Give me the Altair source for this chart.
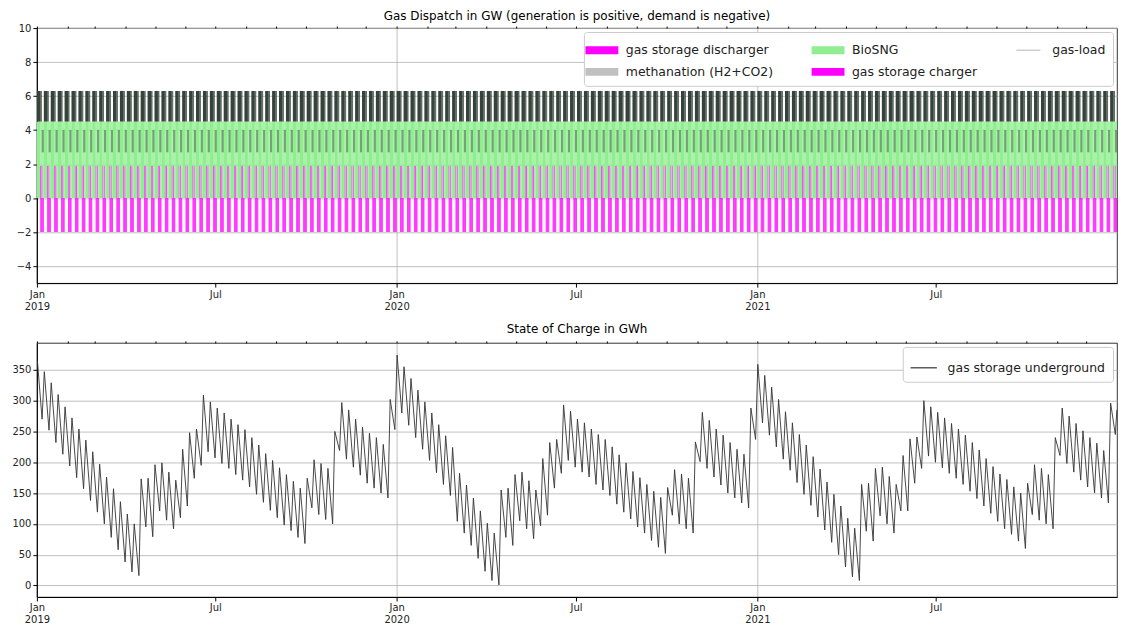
import altair as alt
import pandas as pd

# ---------------- data ----------------
years = [2019, 2020, 2021]
cycles_per_year = 52

# state of charge (GWh): weekly peak and following trough, per year
soc_peak = {
    2019: [365, 347, 329, 310, 290, 272, 254, 236, 217, 197, 176, 157, 136, 116, 100, 173, 174, 196, 199, 184,
           171, 221, 248, 254, 309, 298, 288, 280, 270, 261, 253, 240, 228, 214, 203, 191, 180, 169, 158, 174,
           204, 198, 190, 250, 297, 285, 270, 257, 247, 240, 229, 302],
    2020: [374, 355, 336, 317, 298, 280, 261, 243, 224, 182, 163, 142, 121, 101, 85, 155, 158, 180, 184, 170,
           155, 206, 232, 237, 293, 283, 270, 264, 254, 245, 237, 225, 212, 199, 185, 175, 164, 153, 143, 159,
           188, 181, 174, 233, 281, 268, 254, 244, 232, 221, 213, 288],
    2021: [359, 341, 322, 302, 282, 264, 245, 228, 209, 189, 168, 148, 129, 109, 93, 164, 166, 190, 192, 177,
           164, 211, 238, 241, 300, 290, 281, 272, 263, 254, 244, 232, 220, 206, 193, 181, 172, 160, 150, 166,
           196, 190, 180, 240, 288, 275, 263, 251, 240, 231, 219, 296],
}
soc_trough = {
    2019: [270, 252, 232, 213, 194, 175, 157, 138, 119, 100, 78, 58, 38, 22, 16, 95, 79, 121, 106, 92,
           110, 129, 174, 195, 217, 207, 198, 190, 180, 171, 160, 148, 135, 122, 110, 98, 89, 78, 68, 126,
           115, 107, 100, 219, 205, 192, 179, 166, 158, 150, 142, 253],
    2020: [280, 260, 240, 221, 203, 183, 164, 146, 104, 85, 65, 44, 23, 8, 1, 78, 65, 105, 92, 76,
           97, 114, 158, 182, 203, 192, 184, 176, 164, 155, 146, 132, 119, 108, 95, 85, 73, 62, 52, 114,
           100, 92, 85, 201, 190, 176, 163, 150, 142, 134, 126, 237],
    2021: [264, 244, 225, 205, 187, 167, 148, 130, 111, 90, 70, 50, 30, 14, 8, 88, 72, 113, 100, 85,
           121, 121, 166, 190, 210, 200, 191, 182, 174, 164, 153, 141, 129, 117, 104, 92, 83, 72, 60, 115,
           106, 100, 92, 211, 198, 184, 171, 160, 150, 142, 134, 245],
}
soc_end = 285
soc_peak_phase = 0.07     # position of the peak inside a weekly cycle
soc_trough_phase = 0.75   # position of the trough inside a weekly cycle

# gas dispatch (GW): one weekly cycle split in phases (fractions of the cycle)
phase_start = [0.00, 0.50, 0.60, 0.70, 0.80, 0.90]
phase_end = [0.50, 0.60, 0.70, 0.80, 0.90, 1.00]
discharger = [0.0, 1.9, 0.0, 1.9, 0.0, 0.0]
methanation = [0.0, 0.0, 1.9, 0.0, 1.8, 0.0]
supply_top = [4.5, 4.5, 4.5, 4.5, 4.5, 4.5]       # top of the BioSNG band
charger = [0.0, -2.0, -2.0, -2.0, -2.0, -2.0]
load_low = [4.5, 4.5, 4.5, 2.7, 2.7, 2.7]
load_high = [6.3, 6.3, 6.3, 4.0, 4.0, 4.0]

# legend order (filled column by column, as in the reference)
top_order = ["gas storage discharger", "methanation (H2+CO2)", "BioSNG",
             "gas storage charger", "gas-load"]
top_colors = ["#ff00ff", "#c0c0c0", "#90ee90", "#ff00ff", "#bdbdbd"]

# ---------------- tables ----------------
def cycle_starts(year):
    ndays = (pd.Timestamp(year + 1, 1, 1) - pd.Timestamp(year, 1, 1)).days
    length = pd.Timedelta(days=ndays / cycles_per_year)
    return [(pd.Timestamp(year, 1, 1) + j * length, length) for j in range(cycles_per_year)]

fmt = "%Y-%m-%dT%H:%M:%S"
stack_rows, load_rows, soc_rows = [], [], []
for year in years:
    for j, (c0, L) in enumerate(cycle_starts(year)):
        for p in range(len(phase_start)):
            s = (c0 + phase_start[p] * L).strftime(fmt)
            e = (c0 + phase_end[p] * L).strftime(fmt)
            d, m = discharger[p], methanation[p]
            parts = [("gas storage discharger", 0.0, d),
                     ("methanation (H2+CO2)", d, d + m),
                     ("BioSNG", d + m, supply_top[p]),
                     ("gas storage charger", charger[p], 0.0)]
            for name, lo, hi in parts:
                if hi > lo:
                    stack_rows.append({"start": s, "end": e, "series": name, "lo": lo, "hi": hi})
            load_rows.append({"start": s, "end": e, "lo": load_low[p], "hi": load_high[p],
                              "op": 1.0 if load_low[p] >= 4.5 else 0.5})
        soc_rows.append({"t": (c0 + soc_peak_phase * L).strftime(fmt), "v": soc_peak[year][j],
                         "series": "gas storage underground"})
        soc_rows.append({"t": (c0 + soc_trough_phase * L).strftime(fmt), "v": soc_trough[year][j],
                         "series": "gas storage underground"})
soc_rows.append({"t": "2021-12-31T20:00:00", "v": soc_end, "series": "gas storage underground"})

stack_df = pd.DataFrame(stack_rows)
load_df = pd.DataFrame(load_rows)
soc_df = pd.DataFrame(soc_rows)

# ---------------- axes / scales ----------------
x_scale = alt.Scale(domain=[alt.DateTime(year=2019, month=1, date=1),
                            alt.DateTime(year=2021, month=12, date=31, hours=23)], nice=False)
major_vals = [alt.DateTime(year=y, month=m, date=1) for y in years for m in (1, 7)]
minor_vals = [alt.DateTime(year=y, month=m, date=1) for y in years for m in range(1, 13)]

major_axis = alt.Axis(
    values=major_vals, title=None, tickSize=4, labelPadding=2, labelFontSize=10,
    labelLineHeight=12,
    labelExpr="month(datum.value) == 0 ? [timeFormat(datum.value, '%b'), timeFormat(datum.value, '%Y')] : timeFormat(datum.value, '%b')",
    grid=True, gridColor="#b0b0b0", gridWidth=0.8,
    gridOpacity={"condition": {"test": "month(datum.value) == 0", "value": 1}, "value": 0},
    domainColor="black", tickColor="black", labelColor="#222", labelFlush=False,
)
minor_axis = alt.Axis(values=minor_vals, title=None, labels=False, tickSize=2, domain=False,
                      grid=False, tickColor="black")

def y_axis(vals):
    return alt.Axis(values=vals, title=None, grid=True, gridColor="#b0b0b0", gridWidth=0.8,
                    tickSize=4, labelFontSize=10, labelColor="#222", domainColor="black",
                    tickColor="black", minExtent=28, maxExtent=28, labelPadding=2)

W, H1, H2 = 1084, 256, 255

# ---------------- top panel ----------------
color_top = alt.Scale(domain=top_order, range=top_colors)
top_legend = alt.Legend(
    title=None, orient="top-right", columns=3, symbolSize=484, symbolStrokeWidth=0,
    symbolType={"expr": "datum.value === 'gas-load' ? 'M-1.1,-0.05L1.1,-0.05L1.1,0.05L-1.1,0.05Z' : 'M-1.5,-0.36L1.5,-0.36L1.5,0.36L-1.5,0.36Z'"},
    symbolOpacity=1, labelFontSize=12.5, labelFont="DejaVu Sans", labelColor="#222",
    labelOffset=13, columnPadding=38, rowPadding=4, padding=7, offset=4,
    fillColor="white", strokeColor="#cccccc", cornerRadius=3, labelLimit=400,
)
stack_layer = alt.Chart(stack_df).mark_rect().encode(
    x=alt.X("start:T", scale=x_scale, axis=major_axis),
    x2="end:T",
    y=alt.Y("lo:Q", scale=alt.Scale(domain=[-5, 10], nice=False), axis=y_axis(list(range(-4, 11, 2)))),
    y2="hi:Q",
    color=alt.Color("series:N", scale=color_top, legend=top_legend),
)
load_layer = alt.Chart(load_df).mark_rect(color="#35433a").encode(
    x=alt.X("start:T", scale=x_scale, axis=minor_axis),
    x2="end:T",
    y=alt.Y("lo:Q", axis=None),
    y2="hi:Q",
    opacity=alt.Opacity("op:Q", scale=None),
)
top = alt.layer(stack_layer, load_layer).resolve_axis(x="independent", y="independent").properties(
    width=W, height=H1,
    title=alt.TitleParams("Gas Dispatch in GW (generation is positive, demand is negative)",
                          fontSize=12, fontWeight="normal", font="DejaVu Sans", offset=0),
)

# ---------------- bottom panel ----------------
soc_line = alt.Chart(soc_df).mark_line(strokeWidth=0.9).encode(
    x=alt.X("t:T", scale=x_scale, axis=major_axis),
    y=alt.Y("v:Q", scale=alt.Scale(domain=[-18.75, 393.75], nice=False),
            axis=y_axis(list(range(0, 351, 50)))),
    color=alt.Color("series:N", scale=alt.Scale(domain=["gas storage underground"], range=["#333333"]),
                    legend=alt.Legend(title=None, orient="top-right", symbolType="stroke",
                                      symbolSize=700, symbolStrokeWidth=1.2, labelFontSize=12.5,
                                      labelFont="DejaVu Sans", labelColor="#222", labelOffset=10,
                                      padding=7, offset=4, fillColor="white", symbolStrokeColor="#888888",
                                      strokeColor="#cccccc", cornerRadius=3, labelLimit=400)),
)
soc_minor = alt.Chart(soc_df).mark_line(strokeOpacity=0).encode(
    x=alt.X("t:T", scale=x_scale, axis=minor_axis),
    y=alt.Y("v:Q", axis=None),
)
bottom = alt.layer(soc_line, soc_minor).resolve_axis(x="independent", y="independent").properties(
    width=W, height=H2,
    title=alt.TitleParams("State of Charge in GWh", fontSize=12, fontWeight="normal",
                          font="DejaVu Sans", offset=4),
)

chart = alt.vconcat(top, bottom, spacing=11).resolve_scale(color="independent").properties(
    padding={"left": 0, "top": 0, "right": 0, "bottom": 0},
    background="white",
).configure_view(stroke="black", strokeWidth=0.8).configure_axis(
    labelFont="DejaVu Sans").configure_legend(labelFont="DejaVu Sans")

chart.save("out.html", embed_options={"renderer": "svg", "actions": False})
